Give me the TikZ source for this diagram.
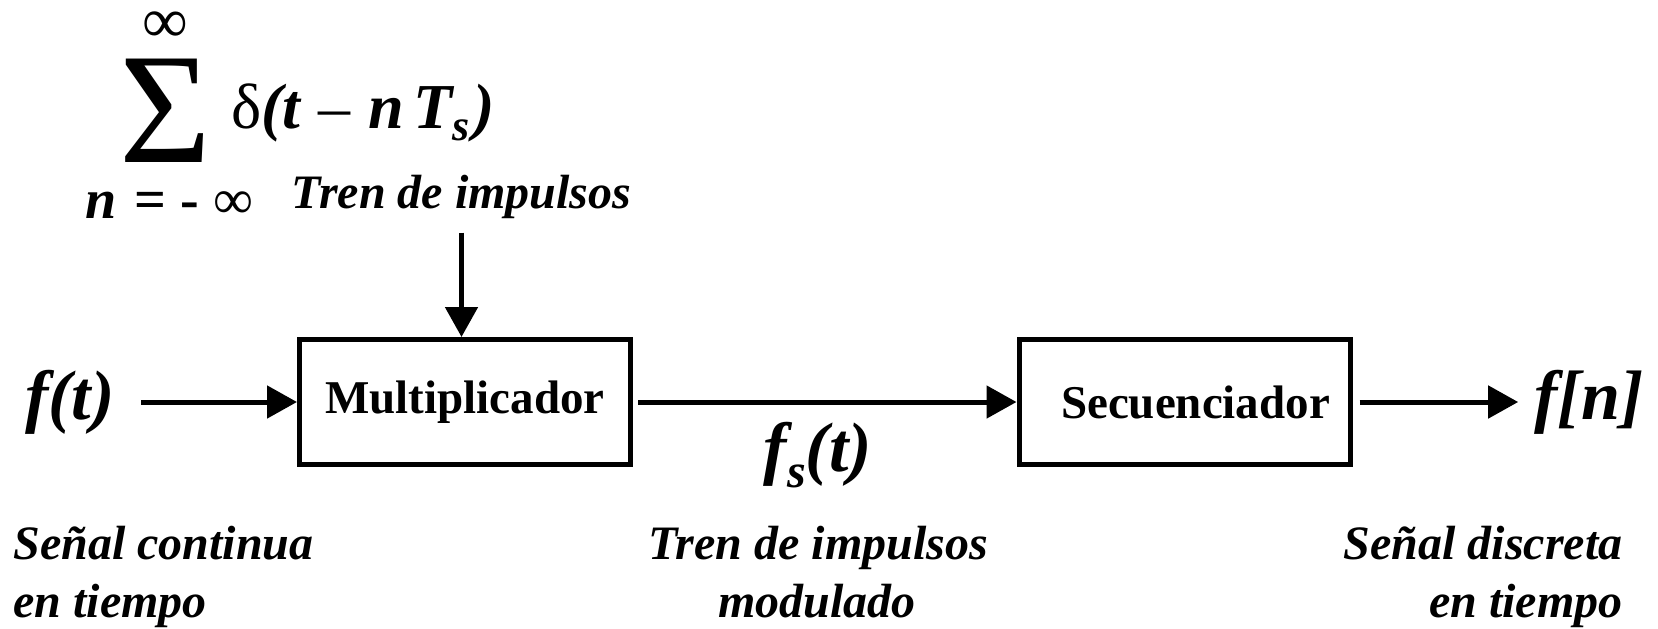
\documentclass[tikz,border=0pt]{standalone}
\usepackage{fontspec}
\setmainfont{Liberation Serif}
\usetikzlibrary{arrows.meta}
\begin{document}
\begin{tikzpicture}[x=0.5pt,y=-0.5pt,
  blk/.style={draw, line width=2.5pt, minimum width=165.5pt, minimum height=62.5pt, inner sep=0pt, font=\fontsize{23.5}{24}\selectfont\bfseries},
  lbl/.style={font=\fontsize{24}{24}\selectfont\bfseries\itshape, inner sep=0pt},
  sig/.style={font=\fontsize{35}{35}\selectfont\bfseries\itshape, inner sep=0pt},
  frm/.style={font=\fontsize{32}{32}\selectfont, inner sep=0pt},
  conn/.style={line width=2.5pt, -{Triangle[length=15pt,width=16pt]}}]
\useasboundingbox (0,0) rectangle (1658,628);

% formula
\node[frm, anchor=base, text height=18pt, text depth=0pt] (inftop) at (165,42) {∞};
\node[inner sep=0pt, anchor=base, text height=52pt, text depth=0pt, font=\fontsize{79}{80}\selectfont] (sigma) at (165,162) {Σ};
\node[frm, anchor=base west] (expr) at (231,128) {δ{\bfseries\itshape (t}\hspace{9pt}–\hspace{9pt}{\bfseries\itshape n}\hspace{4.5pt}{\bfseries\itshape T\raisebox{-6pt}{\fontsize{22}{22}\selectfont s}\hspace{2pt})}};
\node[font=\fontsize{28}{28}\selectfont, inner sep=0pt, anchor=base west, text height=13pt] (low) at (85,218) {{\bfseries\itshape n}\hspace{9pt}{\bfseries =}\hspace{7pt}{\bfseries -}\hspace{7pt}∞};

% top label
\node[lbl, anchor=base] (tren) at (461.5,208) {Tren de impulsos};

% blocks
\node[blk] (mult) at (465,402) {Multiplicador};
\node[blk] (secu) at (1184.5,402) {\hspace{11pt}Secuenciador};

% signals
\node[sig] (ft) at (70,402) {f(t)};
\node[sig] (fn) at (1589,402) {f[n]};
\node[sig] (fs) at (818,455) {f\raisebox{-8pt}{\fontsize{24}{24}\selectfont s}(t)};

% bottom labels
\node[lbl, anchor=base west] (l1a) at (13,559) {Señal continua};
\node[lbl, anchor=base west] (l1b) at (13,617) {en tiempo};
\node[lbl, anchor=base] (l2a) at (818,559) {Tren de impulsos};
\node[lbl, anchor=base] (l2b) at (817,617) {modulado};
\node[lbl, anchor=base east] (l3a) at (1623,559) {Señal discreta};
\node[lbl, anchor=base east] (l3b) at (1623,617) {en tiempo};

% connectors
\draw[conn] ([yshift=-7pt]tren.south) -- (tren.south |- mult.north);
\draw[conn] ([xshift=13pt]ft.east) -- (mult.west);
\draw[conn] ([xshift=2.5pt]mult.east) -- (secu.west);
\draw[conn] ([xshift=3.5pt]secu.east) -- ([xshift=-8pt]fn.west);
\end{tikzpicture}
\end{document}
